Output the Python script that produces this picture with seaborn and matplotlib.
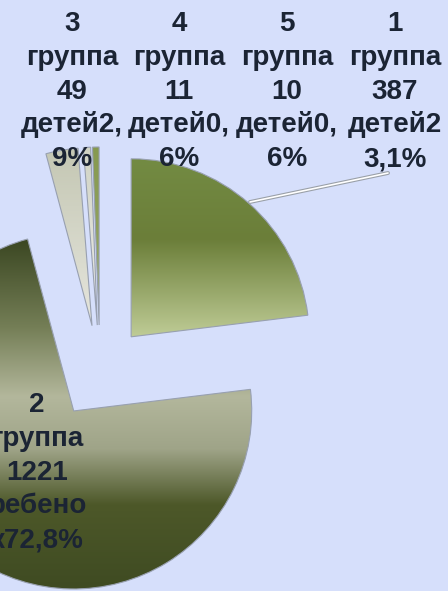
import numpy as np
import matplotlib
matplotlib.use("Agg")
import matplotlib.pyplot as plt
import matplotlib.patheffects as pe
from matplotlib.colors import LinearSegmentedColormap
import seaborn as sns

# data
groups = ["1", "2", "3", "4", "5"]
children = [387, 1221, 49, 11, 10]
label_lines = [
    ["1", "группа", "387", "детей2", "3,1%"],
    ["2", "группа", "1221", "ребено", "к72,8%"],
    ["3", "группа", "49", "детей2,", "9%"],
    ["4", "группа", "11", "детей0,", "6%"],
    ["5", "группа", "10", "детей0,", "6%"],
]

# styling
W, H = 448, 591
bg = "#d6dffb"
text_color = "#1b2434"
edge_color = "#98a0b0"
gradients = [
    [(0.0, "#738b43"), (0.45, "#6b7e39"), (1.0, "#bfcc96")],
    [(0.0, "#3b4722"), (0.25, "#747e56"), (0.45, "#b3b79c"), (0.6, "#9fa488"),
     (0.76, "#4d5829"), (1.0, "#3f4b22")],
    [(0.0, "#c4c7b3"), (1.0, "#e6e6de")],
    [(0.0, "#d0d3c4"), (1.0, "#eeeeea")],
    [(0.0, "#86994f"), (1.0, "#9cab6c")],
]
# label anchor: x centre, baseline of the first line (image pixels from top)
label_pos = [(395, 31), (37, 412), (72, 31), (179, 31), (287, 31)]
line_step = 33.8

sns.set_theme(style="white")
plt.rcParams["font.family"] = ["Liberation Sans", "DejaVu Sans"]

fig = plt.figure(figsize=(W / 100, H / 100), dpi=100, facecolor=bg)
ax = fig.add_axes([0, 0, 1, 1])
ax.set_facecolor(bg)

wedges, _ = ax.pie(children, startangle=90, counterclock=False, radius=178,
                   center=(100, H - 372), explode=[47] * len(children),
                   wedgeprops=dict(facecolor="none", edgecolor=edge_color,
                                   linewidth=0.8, zorder=3))

# gradient fills clipped to each wedge
for w, stops in zip(wedges, gradients):
    bb = w.get_path().get_extents()
    cmap = LinearSegmentedColormap.from_list("g", stops)
    grad = np.linspace(0, 1, 256).reshape(-1, 1)
    im = ax.imshow(grad, cmap=cmap, extent=(bb.x0, bb.x1, bb.y0, bb.y1),
                   origin="upper", aspect="auto", zorder=2, interpolation="bilinear")
    im.set_clip_path(w)

# leader line for group 1
ax.plot([250, 388], [H - 202, H - 173], color="white", lw=1.2, zorder=4,
        path_effects=[pe.Stroke(linewidth=2.8, foreground="#9aa0a8"), pe.Normal()])

for lines, (lx, ly) in zip(label_lines, label_pos):
    for i, line in enumerate(lines):
        ax.text(lx, H - (ly + i * line_step), line, ha="center", va="baseline",
                fontsize=20, fontweight="bold", color=text_color, zorder=5)

ax.set_xlim(0, W)
ax.set_ylim(0, H)
ax.axis("off")

fig.savefig("out.png", dpi=100, facecolor=bg)
